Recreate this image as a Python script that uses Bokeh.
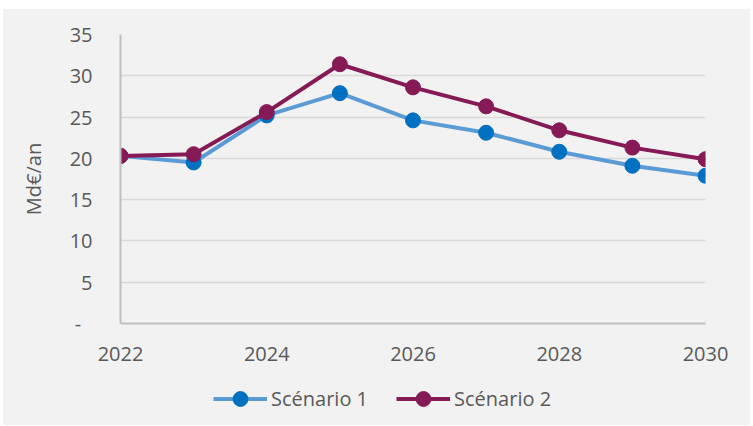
from bokeh.plotting import figure
from bokeh.models import FixedTicker, Legend, LegendItem, ColumnDataSource, Spacer
from bokeh.layouts import column, row
from bokeh.embed import file_html
from bokeh.resources import INLINE

years = [2022, 2023, 2024, 2025, 2026, 2027, 2028, 2029, 2030]
scenario_1 = [20.3, 19.5, 25.2, 27.9, 24.6, 23.1, 20.8, 19.1, 17.9]
scenario_2 = [20.3, 20.5, 25.6, 31.4, 28.6, 26.3, 23.4, 21.3, 19.9]
y_ticks = [0, 5, 10, 15, 20, 25, 30, 35]
x_ticks = [2022, 2024, 2026, 2028, 2030]
y_label = "Md€/an"
names = ["Scénario 1", "Scénario 2"]

BG = "#f2f2f2"
TXT = "#595959"
FONT = "Open Sans"
C1_LINE, C1_MARK = "#5b9bd5", "#0070c0"
C2 = "#861a56"

p = figure(width=747, height=364, output_backend="svg", toolbar_location=None,
           x_range=(2022, 2030), y_range=(0, 35))
p.background_fill_color = BG
p.border_fill_color = BG
p.outline_line_color = None
p.min_border_left = 117
p.min_border_right = 45
p.min_border_top = 25
p.min_border_bottom = 50

p.xgrid.grid_line_color = None
p.ygrid.grid_line_color = "#d9d9d9"
p.ygrid.grid_line_width = 1.5

p.yaxis.ticker = FixedTicker(ticks=y_ticks)
p.yaxis.major_label_overrides = {0: "-\u2007"}
p.xaxis.ticker = FixedTicker(ticks=x_ticks)

for ax in (p.xaxis[0], p.yaxis[0]):
    ax.axis_line_color = "#bfbfbf"
    ax.axis_line_width = 2
    ax.major_tick_line_color = None
    ax.minor_tick_line_color = None
    ax.major_label_text_color = TXT
    ax.major_label_text_font = FONT
    ax.major_label_text_font_size = "20px"
p.yaxis.major_label_standoff = 22
p.xaxis.major_label_standoff = 17
p.yaxis.axis_label = y_label
p.yaxis.axis_label_text_font = FONT
p.yaxis.axis_label_text_font_size = "20px"
p.yaxis.axis_label_text_font_style = "normal"
p.yaxis.axis_label_text_color = TXT
p.yaxis.axis_label_standoff = 20

src = ColumnDataSource(dict(x=years, s1=scenario_1, s2=scenario_2))

p.line("x", "s1", source=src, line_color=C1_LINE, line_width=4)
p.scatter("x", "s1", source=src, size=15, fill_color=C1_MARK, line_color=C1_MARK)
p.line("x", "s2", source=src, line_color=C2, line_width=4)
p.scatter("x", "s2", source=src, size=15, fill_color=C2, line_color=C2)

# legend strip (a frame-only figure whose data lie outside its view)
lg = figure(width=747, height=52, output_backend="svg", toolbar_location=None,
            x_range=(0, 1), y_range=(0, 1))
lg.background_fill_color = BG
lg.border_fill_color = BG
lg.outline_line_color = None
lg.axis.visible = False
lg.grid.grid_line_color = None
lg.min_border_left = 117
lg.min_border_right = 45
lg.min_border_top = 0
lg.min_border_bottom = 0

l1 = lg.line("x", "s1", source=src, line_color=C1_LINE, line_width=4)
c1 = lg.scatter("x", "s1", source=src, size=15, fill_color=C1_MARK, line_color=C1_MARK)
l2 = lg.line("x", "s2", source=src, line_color=C2, line_width=4)
c2 = lg.scatter("x", "s2", source=src, size=15, fill_color=C2, line_color=C2)

legend = Legend(items=[LegendItem(label=names[0], renderers=[l1, c1]),
                       LegendItem(label=names[1], renderers=[l2, c2])],
                orientation="horizontal", location=(93, 8))
legend.background_fill_alpha = 0
legend.border_line_color = None
legend.label_text_font = FONT
legend.label_text_font_size = "20px"
legend.label_text_color = TXT
legend.glyph_width = 54
legend.glyph_height = 37
legend.label_standoff = 4
legend.spacing = 28
legend.padding = 0
legend.margin = 0
lg.add_layout(legend, "center")

inner = column(p, lg, spacing=0, styles={"background-color": BG})
layout = column(Spacer(height=9), row(Spacer(width=3), inner), spacing=0)
open("out.html", "w").write(file_html(layout, INLINE))
